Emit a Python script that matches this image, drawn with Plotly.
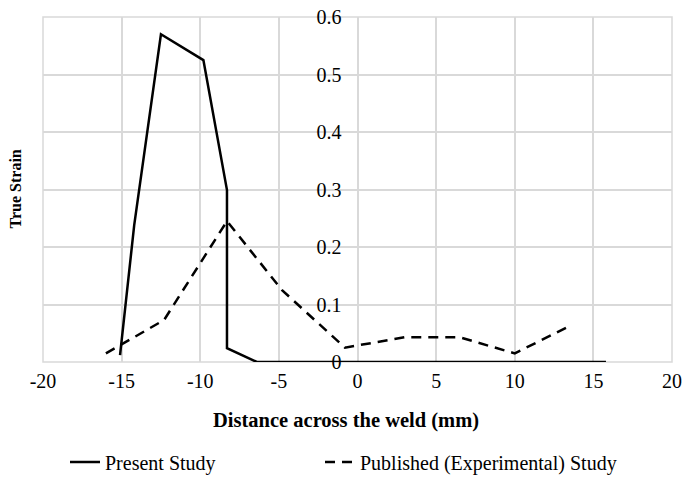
import plotly.graph_objects as go

present_x = [-15.1, -14.2, -12.5, -9.8, -8.3, -8.3, -6.4, 15.8]
present_y = [0.012, 0.238, 0.570, 0.525, 0.299, 0.024, 0.0, 0.0]

published_x = [-16.0, -12.3, -8.3, -4.8, -0.8, 3.0, 6.5, 10.0, 13.3]
published_y = [0.015, 0.073, 0.245, 0.125, 0.025, 0.043, 0.043, 0.015, 0.060]

x_ticks = [-20, -15, -10, -5, 0, 5, 10, 15, 20]
x_labels = ["-20", "-15", "-10", "-5", "0", "5", "10", "15", "20"]
y_ticks = [0, 0.1, 0.2, 0.3, 0.4, 0.5, 0.6]
y_labels = ["0", "0.1", "0.2", "0.3", "0.4", "0.5", "0.6"]

FONT = "Times New Roman, Liberation Serif, serif"
GRID = "#d9d9d9"

W, H = 685, 480

fig = go.Figure()
fig.add_trace(go.Scatter(x=present_x, y=present_y, mode="lines", name="Present Study",
                         line=dict(color="black", width=2.5), legend="legend"))
fig.add_trace(go.Scatter(x=published_x, y=published_y, mode="lines",
                         name="Published (Experimental) Study",
                         line=dict(color="black", width=2.5, dash="10px,7px"),
                         legend="legend2"))

leg_common = dict(orientation="h", xanchor="left", xref="container",
                  yanchor="middle", yref="container", y=18 / H,
                  font=dict(family=FONT, size=20), bgcolor="rgba(0,0,0,0)")

fig.update_layout(
    width=W, height=H,
    margin=dict(l=43, r=13, t=17, b=118, autoexpand=False),
    paper_bgcolor="white", plot_bgcolor="white",
    font=dict(family=FONT, color="black", size=20),
    showlegend=True,
    legend=dict(x=65 / W, **leg_common),
    legend2=dict(x=320 / W, **leg_common),
    xaxis=dict(range=[-20, 20], tickvals=x_ticks, ticktext=x_labels,
               showgrid=True, gridcolor=GRID,
               gridwidth=1.5, zeroline=False, showline=False, automargin=False,
               ticks="", ticklabelstandoff=5, ticklabeloverflow="allow",
               tickfont=dict(family=FONT, size=20)),
    yaxis=dict(range=[0, 0.6], tickvals=y_ticks, ticktext=y_labels,
               showgrid=True, gridcolor=GRID, gridwidth=1.5, automargin=False,
               zeroline=False, showline=False, ticks="",
               anchor="free", position=0.5, ticklabelstandoff=16,
               ticklabeloverflow="allow",
               tickfont=dict(family=FONT, size=20)),
)

# outer grid frame (gridlines at the range ends are not drawn by plotly)
fig.add_shape(type="rect", xref="paper", yref="paper", x0=0, x1=1, y0=0, y1=1,
              line=dict(color=GRID, width=1.5), layer="below")

fig.add_annotation(text="<b>True Strain</b>", x=0, y=0.5, xref="paper", yref="paper",
                   xanchor="center", yanchor="middle", xshift=-28,
                   showarrow=False, textangle=-90,
                   font=dict(family=FONT, size=16))
fig.add_annotation(text="<b>Distance across the weld (mm)</b>", x=0.482, y=0,
                   xref="paper", yref="paper", xanchor="center", yanchor="middle",
                   yshift=-58, showarrow=False,
                   font=dict(family=FONT, size=20.5))

fig.write_html("out.html",
               config={"displayModeBar": False},
               post_script="document.body.style.margin='0';"
                           "document.body.style.overflow='hidden';")
